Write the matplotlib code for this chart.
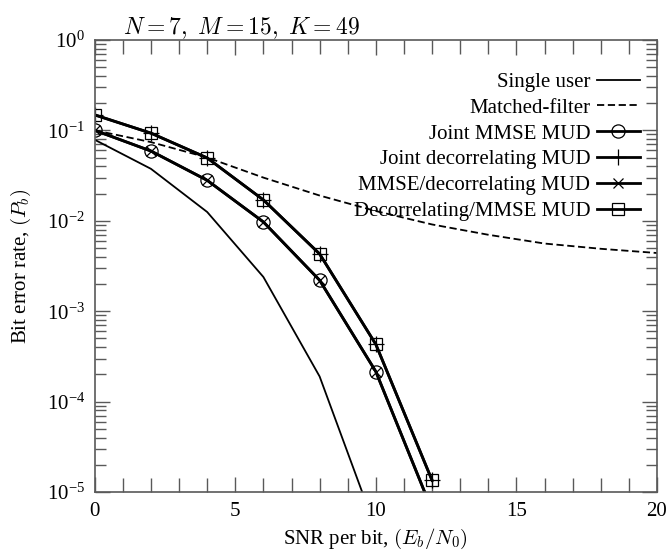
import matplotlib
matplotlib.use("Agg")
import matplotlib.pyplot as plt
import numpy as np

plt.rcParams['font.family'] = ['Liberation Serif', 'DejaVu Serif']
plt.rcParams['mathtext.fontset'] = 'cm'

# SNR points (dB)
snr = [0, 2, 4, 6, 8, 10, 12]
snr_su = [0, 2, 4, 6, 8, 10]
snr_mf = [0, 2, 4, 6, 8, 10, 12, 14, 16, 18, 20]

single_user = [0.0786, 0.0375, 0.0125, 0.00239, 1.9e-4, 3.9e-6]
matched_filter = [0.100, 0.074, 0.050, 0.030, 0.019, 0.0128, 0.0091, 0.0070, 0.0056, 0.0049, 0.0044]
joint_mmse = [0.100, 0.059, 0.028, 0.0097, 0.0022, 2.15e-4, 6.3e-6]
joint_decorr = [0.148, 0.093, 0.0495, 0.017, 0.0043, 4.3e-4, 1.35e-5]
mmse_decorr = [0.100, 0.059, 0.028, 0.0097, 0.0022, 2.15e-4, 6.3e-6]
decorr_mmse = [0.148, 0.093, 0.0495, 0.017, 0.0043, 4.3e-4, 1.35e-5]

fig = plt.figure(figsize=(6.67, 5.53), dpi=100)
ax = fig.add_axes([0.142, 0.110, 0.843, 0.818])

ax.plot(snr_su, single_user, color='black', lw=1.3, label='Single user')
ax.plot(snr_mf, matched_filter, color='black', lw=1.3, dashes=(4, 2), label='Matched-filter')
ax.plot(snr, joint_mmse, color='black', lw=2.0, marker='o', ms=9.5, mfc='none',
        mew=0.9, label='Joint MMSE MUD')
ax.plot(snr, joint_decorr, color='black', lw=2.0, marker='+', ms=11, mew=0.9,
        label='Joint decorrelating MUD')
ax.plot(snr, mmse_decorr, color='black', lw=2.0, marker='x', ms=7.5, mew=0.9,
        label='MMSE/decorrelating MUD')
ax.plot(snr, decorr_mmse, color='black', lw=2.0, marker='s', ms=8, mfc='none',
        mew=0.9, label='Decorrelating/MMSE MUD')

ax.set_yscale('log')
ax.set_xlim(0, 20)
ax.set_ylim(1e-5, 1)
ax.set_xticks([0, 5, 10, 15, 20])
ax.set_xticks(np.arange(0, 21, 1), minor=True)

for s in ax.spines.values():
    s.set_color('0.35')
    s.set_linewidth(1.2)
ax.tick_params(which='both', direction='in', top=True, right=True, color='0.35',
               labelsize=15, width=1.0)
ax.tick_params(which='major', length=11, pad=7)
ax.tick_params(which='minor', length=8)
ax.tick_params(axis='x', which='minor', length=10)

ax.set_xlabel('SNR per bit, $(E_b/N_0)$', fontsize=15, labelpad=4)
ax.set_ylabel('Bit error rate, $(P_b)$', fontsize=15, labelpad=10)

ax.text(0.05, 0.998, '$N = 7,\\ M = 15,\\ K = 49$', transform=ax.transAxes,
        fontsize=17, ha='left', va='bottom')

ax.legend(loc='upper right', bbox_to_anchor=(1.0, 0.965), markerfirst=False,
          frameon=False, fontsize=15, handlelength=2.1, handletextpad=0.3,
          labelspacing=0.3, borderaxespad=0.4)

fig.savefig('out.png', dpi=100)
